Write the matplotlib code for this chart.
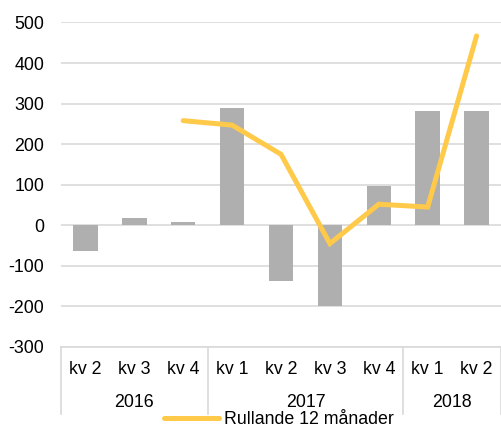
import numpy as np
import matplotlib.pyplot as plt
import matplotlib.transforms as mtransforms

plt.rcParams['font.family'] = ['Liberation Sans', 'DejaVu Sans']
plt.rcParams['axes.unicode_minus'] = False

quarters = ['kv 2', 'kv 3', 'kv 4', 'kv 1', 'kv 2', 'kv 3', 'kv 4', 'kv 1', 'kv 2']
years = ['2016', '2017', '2018']
year_counts = [3, 4, 2]
quarter_values = [-64, 18, 7, 288, -138, -198, 96, 281, 283]
rolling_12m = [np.nan, np.nan, 258, 247, 175, -45, 52, 45, 467]

bar_color = '#AEAFAE'
line_color = '#FFC94A'
grid_color = '#D9D9D9'
font_size = 12.8

fig = plt.figure(figsize=(5.01, 4.28), dpi=100)
ax = fig.add_axes([61 / 501, 1 - 347 / 428, 440 / 501, (347 - 22.5) / 428])

x = np.arange(len(quarters))
ax.bar(x, quarter_values, width=0.5, color=bar_color, zorder=2)
ax.plot(x, rolling_12m, color=line_color, lw=3.6, solid_capstyle='round',
        solid_joinstyle='miter', zorder=3, label='Rullande 12 månader')

ax.set_xlim(-0.5, len(quarters) - 0.5)
ax.set_ylim(-300, 500)
ax.set_yticks(range(-300, 501, 100))
ax.yaxis.grid(True, color=grid_color, lw=1.2, zorder=0)
ax.set_axisbelow(True)
for s in ['top', 'right', 'left']:
    ax.spines[s].set_visible(False)
ax.spines['bottom'].set_color(grid_color)
ax.spines['bottom'].set_linewidth(1.2)
ax.tick_params(axis='y', length=0, labelsize=font_size, pad=12)
ax.set_xticks([])

# two-level category axis: quarters, then years with separators
trans = mtransforms.blended_transform_factory(ax.transData, ax.transAxes)
ax_h = 347 - 22.5
sep_bottom = -(414 - 347) / ax_h
quarter_y = -(369.5 - 347) / ax_h
year_y = -(402.5 - 347) / ax_h
for xi, q in zip(x, quarters):
    ax.text(xi, quarter_y, q, transform=trans, ha='center', va='center',
            fontsize=font_size)
start = -0.5
ax.plot([start, start], [0, sep_bottom], color=grid_color, lw=1.2,
        transform=trans, clip_on=False)
for year, n in zip(years, year_counts):
    end = start + n
    ax.plot([end, end], [0, sep_bottom], color=grid_color, lw=1.2,
            transform=trans, clip_on=False)
    ax.text((start + end) / 2, year_y, year, transform=trans, ha='center',
            va='center', fontsize=font_size)
    start = end

fig.legend(loc='center', bbox_to_anchor=(279 / 501, 1 - 420 / 428), frameon=False,
           fontsize=font_size, handlelength=3.1, handletextpad=0.25,
           borderpad=0, borderaxespad=0)

fig.savefig('out.png', dpi=100)
